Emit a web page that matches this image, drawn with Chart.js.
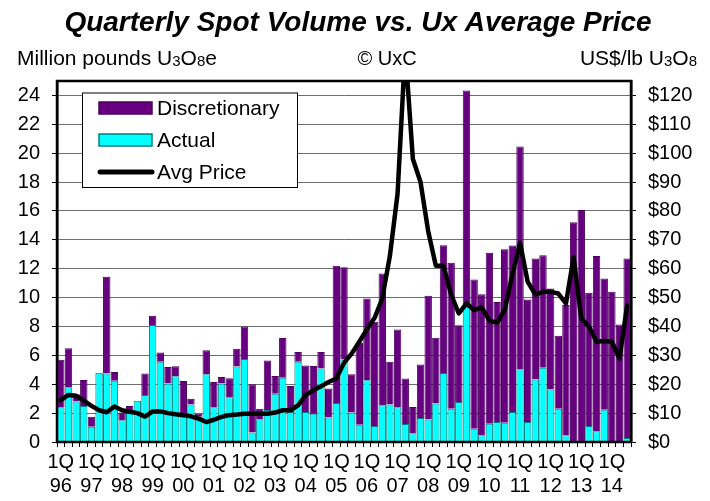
<!DOCTYPE html>
<html>
<head>
<meta charset="utf-8">
<script src="https://cdn.jsdelivr.net/npm/chart.js@4.4.1/dist/chart.umd.min.js"></script>
<style>
  html, body { margin: 0; padding: 0; background: #fff; }
  canvas { display: block; }
</style>
</head>
<body>
<canvas id="chart" width="710" height="501"></canvas>
<script>
// quarter labels 1Q96 .. 3Q14
const years = ["96","97","98","99","00","01","02","03","04","05","06","07","08","09","10","11","12","13","14"];
const quarters = [];
years.forEach(y => ["1Q","2Q","3Q","4Q"].forEach(q => quarters.push(q + y)));
quarters.length = 75;

// million lbs U3O8e
const actual = [
  2.4, 3.8, 2.8, 2.5,   1.05, 4.8, 4.75, 4.25,  1.5, 2.0, 2.85, 3.25,  8.1, 5.55, 4.05, 4.55,
  2.0, 2.6, 1.75, 4.7,  2.4, 4.05, 3.1, 5.22,   5.75, 0.65, 1.57, 2.22, 3.35, 4.45, 2.08, 5.55,
  2.08, 1.96, 5.09, 1.69, 2.7, 5.71, 2.05, 1.2,  4.28, 1.1, 2.54, 2.59, 2.4, 1.25, 0.6, 1.66,
  1.55, 2.66, 4.78, 2.31, 2.77, 9.36, 0.92, 0.46, 1.27, 1.39, 1.34, 2.08, 5.04, 1.39, 4.32, 5.15,
  3.63, 2.31, 0.46, 0.05, 0, 1.11, 0.74, 2.24,  0, 0, 0.28
];
const discretionary = [
  3.3, 2.7, 0.5, 1.8,   0.7, 0, 6.7, 0.6,     0.55, 0.5, 0, 1.5,    0.65, 0.65, 1.15, 0.7,
  2.22, 0.4, 0.2, 1.65, 1.75, 0.45, 1.32, 1.23, 2.25, 3.35, 0.73, 3.43, 1.22, 2.75, 1.8, 0.69,
  3.22, 3.31, 1.15, 2.01, 9.5, 6.39, 2.65, 5.67, 5.66, 7.22, 9.13, 2.96, 5.39, 3.14, 1.83, 3.7,
  8.57, 4.56, 8.84, 10.1, 5.32, 14.98, 10.34, 9.78, 11.83, 8.31, 12.0, 11.52, 15.42, 8.48, 8.39, 7.79,
  7.0, 5.04, 9.02, 15.16, 16.07, 9.22, 12.14, 9.09, 10.4, 8.14, 12.43
];
// US$/lb
const avgPrice = [
  14.5, 16.3, 16.0, 14.3,  12.5, 11.0, 10.3, 12.3,  11.0, 10.5, 10.0, 8.8,  10.6, 10.6, 10.0, 9.6,
  9.3, 8.9, 8.1, 6.9,      7.7, 8.7, 9.3, 9.5,      9.8, 9.8, 9.8, 9.8,     10.2, 11.0, 11.0, 12.7,
  16.2, 17.9, 19.3, 20.8,  22.0, 27.4, 30.6, 34.7,  39.0, 43.0, 49.7, 64.5, 86.0, 136.0, 98.0, 90.0,
  73.0, 61.0, 61.0, 51.0,  44.5, 48.0, 45.7, 46.6,  42.0, 41.3, 45.7, 58.0, 69.0, 55.5, 51.0, 52.0,
  52.0, 51.4, 48.0, 64.0,  42.8, 40.0, 34.7, 35.0,  34.7, 28.9, 47.4
];

const FONT = "'Liberation Sans', Arial, sans-serif";
const PURPLE = "#660080";
const CYAN = "#00FFFF";

// draws text with small digits (U3O8)
function richText(ctx, parts, x, y, size, align) {
  const big = size + "px " + FONT;
  const small = Math.round(size * 0.7) + "px " + FONT;
  let w = 0;
  parts.forEach(p => { ctx.font = p.sub ? small : big; w += ctx.measureText(p.t).width; });
  let cx = align === "right" ? x - w : align === "center" ? x - w / 2 : x;
  ctx.textAlign = "left";
  ctx.textBaseline = "alphabetic";
  parts.forEach(p => {
    ctx.font = p.sub ? small : big;
    ctx.fillText(p.t, cx, p.sub ? y + 1 : y);
    cx += ctx.measureText(p.t).width;
  });
}

const decorations = {
  id: "decorations",
  afterDraw(chart) {
    const ctx = chart.ctx;
    const a = chart.chartArea;
    ctx.save();

    // plot frame
    ctx.strokeStyle = "#000";
    ctx.lineWidth = 2.5;
    ctx.strokeRect(a.left, a.top, a.right - a.left, a.bottom - a.top);

    // title and header texts
    ctx.fillStyle = "#000";
    ctx.textAlign = "center";
    ctx.textBaseline = "alphabetic";
    ctx.font = "italic bold 28px " + FONT;
    ctx.fillText("Quarterly Spot Volume vs. Ux Average Price", 358, 31);
    richText(ctx, [{t: "Million pounds U"}, {t: "3", sub: true}, {t: "O"}, {t: "8", sub: true}, {t: "e"}], 17, 65, 21, "left");
    richText(ctx, [{t: "© UxC"}], 387, 65, 20, "center");
    richText(ctx, [{t: "US$/lb U"}, {t: "3", sub: true}, {t: "O"}, {t: "8", sub: true}], 697, 65, 21, "right");

    // legend box
    const lx = 82, ly = 92.5, lw = 215, lh = 94.5;
    ctx.fillStyle = "#fff";
    ctx.fillRect(lx, ly, lw, lh);
    ctx.strokeStyle = "#000";
    ctx.lineWidth = 1;
    ctx.strokeRect(lx + 0.5, ly + 0.5, lw, lh);

    const ds = chart.data.datasets;
    const rows = [
      {d: ds[1], y: 108},
      {d: ds[0], y: 140},
      {d: ds[2], y: 172}
    ];
    ctx.font = "21px " + FONT;
    ctx.textBaseline = "middle";
    ctx.textAlign = "left";
    rows.forEach(r => {
      if (r.d.type === "line") {
        ctx.strokeStyle = r.d.borderColor;
        ctx.lineWidth = 5;
        ctx.lineCap = "round";
        ctx.beginPath();
        ctx.moveTo(100, r.y);
        ctx.lineTo(152, r.y);
        ctx.stroke();
      } else {
        ctx.fillStyle = r.d.backgroundColor;
        ctx.fillRect(99, r.y - 6, 53, 12);
        ctx.strokeStyle = r.d.borderColor;
        ctx.lineWidth = 1.5;
        ctx.strokeRect(99, r.y - 6, 53, 12);
      }
      ctx.fillStyle = "#000";
      ctx.fillText(r.d.label, 157, r.y + 1);
    });
    ctx.restore();
  }
};

const tickFont = { family: FONT, size: 20 };

new Chart(document.getElementById("chart"), {
  type: "bar",
  data: {
    labels: quarters,
    datasets: [
      {
        label: "Actual",
        data: actual,
        backgroundColor: CYAN,
        borderColor: "#008080",
        borderWidth: 1,
        yAxisID: "y",
        order: 1
      },
      {
        label: "Discretionary",
        data: discretionary,
        backgroundColor: PURPLE,
        borderColor: "#4a005c",
        borderWidth: 1,
        yAxisID: "y",
        order: 2
      },
      {
        type: "line",
        label: "Avg Price",
        data: avgPrice,
        borderColor: "#000",
        borderWidth: 4.5,
        tension: 0,
        pointRadius: 0,
        borderJoinStyle: "round",
        borderCapStyle: "round",
        yAxisID: "y1",
        clip: 0,
        order: 0
      }
    ]
  },
  options: {
    responsive: false,
    animation: false,
    layout: { padding: { top: 81, left: 0, right: 0, bottom: 0 } },
    datasets: { bar: { barPercentage: 0.97, categoryPercentage: 1.0 } },
    plugins: { legend: { display: false }, tooltip: { enabled: false } },
    scales: {
      x: {
        stacked: true,
        offset: true,
        grid: { offset: true, drawOnChartArea: false, drawTicks: true, tickLength: 5, tickColor: "#000" },
        border: { display: true, color: "#000", width: 2 },
        ticks: {
          autoSkip: false,
          maxRotation: 0,
          minRotation: 0,
          padding: 3,
          color: "#000",
          font: { family: FONT, size: 20 },
          callback: function (v, i) {
            const l = quarters[i];
            return l.startsWith("1Q") ? ["1Q", l.slice(2)] : "";
          }
        },
        afterFit: s => { s.height = 59; }
      },
      y: {
        stacked: true,
        min: 0,
        max: 25,
        ticks: { stepSize: 2, includeBounds: false, padding: 12, color: "#000", font: tickFont },
        grid: { color: "#6e6e6e", tickLength: 5, tickColor: "#000" },
        border: { display: true, color: "#000", width: 2.5 },
        afterFit: s => { s.width = 57; }
      },
      y1: {
        position: "right",
        stacked: false,
        min: 0,
        max: 125,
        ticks: {
          stepSize: 10, includeBounds: false, padding: 12, color: "#000", font: tickFont,
          callback: v => "$" + v
        },
        grid: { drawOnChartArea: false, tickLength: 5, tickColor: "#000" },
        border: { display: true, color: "#000", width: 2.5 },
        afterFit: s => { s.width = 79; }
      }
    }
  },
  plugins: [decorations]
});
</script>
</body>
</html>
